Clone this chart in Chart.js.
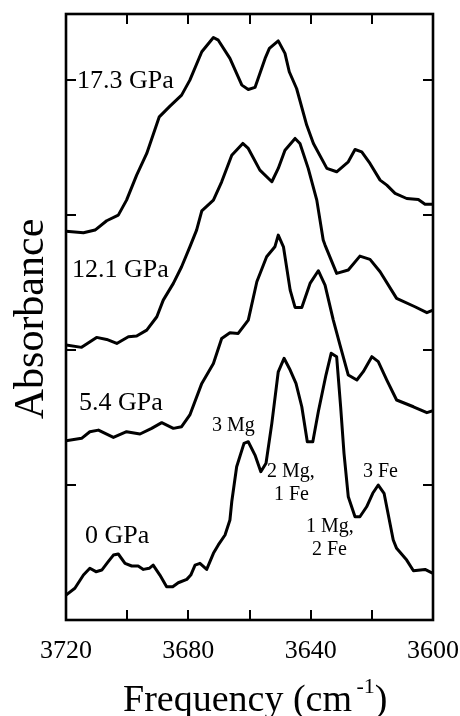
<!DOCTYPE html>
<html>
<head>
<meta charset="utf-8">
<script src="https://cdn.jsdelivr.net/npm/chart.js@4"></script>
<style>
  html, body { margin: 0; padding: 0; background: #fff; }
  #wrap { width: 460px; height: 716px; }
</style>
</head>
<body>
<div id="wrap"><canvas id="ir"></canvas></div>
<script>
// Spectra (frequency in cm-1, absorbance incl. vertical offset)
const freq0 = [3720, 3717.1, 3714.3, 3712.2, 3710.2, 3708.3, 3706.2, 3704.5, 3702.9, 3700.7, 3698.5, 3696.4, 3694.7, 3692.8, 3691.5, 3689.3, 3687.1, 3685.1, 3683.3, 3680.5, 3679.2, 3677.8, 3676.2, 3674.0, 3671.8, 3670.2, 3668.0, 3666.4, 3665.8, 3664.2, 3661.8, 3660.4, 3658.2, 3656.3, 3654.6, 3652.7, 3650.6, 3648.7, 3646.7, 3644.8, 3642.9, 3641.1, 3639.3, 3637.5, 3635.0, 3633.3, 3631.5, 3630.2, 3629.1, 3627.7, 3625.5, 3623.9, 3621.7, 3619.7, 3617.9, 3616.0, 3613.0, 3611.9, 3608.6, 3606.4, 3602.6, 3600];
const abs0 = [0.185, 0.235, 0.333, 0.383, 0.358, 0.370, 0.432, 0.481, 0.489, 0.420, 0.400, 0.400, 0.375, 0.383, 0.407, 0.333, 0.247, 0.247, 0.276, 0.301, 0.333, 0.407, 0.420, 0.375, 0.494, 0.556, 0.630, 0.741, 0.876, 1.136, 1.309, 1.321, 1.222, 1.099, 1.161, 1.457, 1.839, 1.939, 1.852, 1.753, 1.580, 1.321, 1.321, 1.543, 1.815, 1.976, 1.950, 1.580, 1.235, 0.913, 0.765, 0.765, 0.839, 0.939, 1.000, 0.939, 0.593, 0.531, 0.444, 0.365, 0.375, 0.346];

const freq54 = [3720, 3714.9, 3712.2, 3709.4, 3704.5, 3700.2, 3695.8, 3692.0, 3688.7, 3684.9, 3682.2, 3679.5, 3675.6, 3671.8, 3669.1, 3666.4, 3663.7, 3660.4, 3657.6, 3654.4, 3651.7, 3650.6, 3648.9, 3646.7, 3645.1, 3642.9, 3640.2, 3637.5, 3635.3, 3632.6, 3630.4, 3627.7, 3624.9, 3622.8, 3620.0, 3617.9, 3615.1, 3611.9, 3606.4, 3602.0, 3600];
const abs54 = [1.328, 1.346, 1.395, 1.407, 1.353, 1.395, 1.378, 1.420, 1.462, 1.420, 1.432, 1.519, 1.753, 1.901, 2.086, 2.128, 2.123, 2.222, 2.506, 2.691, 2.765, 2.852, 2.765, 2.444, 2.316, 2.316, 2.494, 2.588, 2.481, 2.222, 2.037, 1.815, 1.778, 1.840, 1.951, 1.914, 1.778, 1.630, 1.580, 1.536, 1.551];

const freq121 = [3720, 3714.9, 3710.0, 3706.7, 3703.4, 3699.6, 3696.9, 3693.6, 3690.3, 3688.2, 3684.9, 3682.2, 3679.5, 3677.3, 3675.6, 3671.8, 3669.1, 3665.8, 3662.2, 3660.4, 3656.6, 3652.7, 3650.6, 3648.4, 3645.1, 3643.5, 3640.8, 3638.0, 3635.9, 3635.3, 3631.5, 3627.7, 3623.9, 3620.6, 3617.3, 3611.9, 3605.9, 3602.0, 3600];
const abs121 = [2.037, 2.020, 2.094, 2.079, 2.049, 2.099, 2.104, 2.148, 2.247, 2.370, 2.494, 2.617, 2.765, 2.889, 3.032, 3.111, 3.247, 3.444, 3.531, 3.494, 3.333, 3.247, 3.346, 3.481, 3.568, 3.531, 3.346, 3.111, 2.815, 2.778, 2.568, 2.593, 2.696, 2.672, 2.580, 2.383, 2.321, 2.277, 2.296];

const freq173 = [3720, 3714.3, 3710.5, 3706.7, 3702.9, 3700.2, 3696.9, 3693.6, 3689.5, 3686.0, 3682.2, 3679.5, 3675.6, 3671.8, 3670.2, 3666.4, 3662.5, 3660.4, 3658.2, 3654.9, 3653.5, 3650.6, 3648.4, 3647.0, 3644.6, 3641.3, 3639.1, 3634.7, 3631.5, 3627.7, 3625.5, 3623.3, 3620.6, 3617.3, 3615.1, 3612.4, 3608.6, 3604.8, 3602.6, 3600];
const abs173 = [2.881, 2.869, 2.889, 2.958, 3.000, 3.111, 3.296, 3.457, 3.728, 3.807, 3.889, 4.000, 4.210, 4.316, 4.296, 4.161, 3.963, 3.931, 3.946, 4.161, 4.235, 4.291, 4.198, 4.062, 3.938, 3.667, 3.531, 3.346, 3.321, 3.395, 3.486, 3.469, 3.383, 3.259, 3.222, 3.161, 3.123, 3.116, 3.081, 3.081];

const xTickLabels = [3720, 3680, 3640, 3600];
const xMinorTicks = [3700, 3660, 3620];
const yTicks = [1, 2, 3, 4];

const serif = '"Liberation Serif", "Times New Roman", serif';

function pts(xs, ys) {
  return xs.map((x, i) => ({ x: x, y: ys[i] }));
}

function line(xs, ys) {
  return {
    data: pts(xs, ys),
    borderColor: '#000',
    borderWidth: 3,
    borderJoinStyle: 'round',
    borderCapStyle: 'round',
    pointRadius: 0,
    tension: 0,
    fill: false
  };
}

// frame, inward ticks, tick labels, titles and annotations
const decor = {
  id: 'decor',
  afterDraw(chart) {
    const ctx = chart.ctx;
    const a = chart.chartArea;
    const xs = chart.scales.x, ys = chart.scales.y;
    const tl = 10;
    ctx.save();
    ctx.strokeStyle = '#000';
    ctx.lineWidth = 2;
    ctx.beginPath();
    xTickLabels.concat(xMinorTicks).forEach(v => {
      const px = Math.round(xs.getPixelForValue(v));
      ctx.moveTo(px, a.bottom); ctx.lineTo(px, a.bottom - tl);
      ctx.moveTo(px, a.top); ctx.lineTo(px, a.top + tl);
    });
    yTicks.forEach(v => {
      const py = Math.round(ys.getPixelForValue(v));
      ctx.moveTo(a.left, py); ctx.lineTo(a.left + tl, py);
      ctx.moveTo(a.right, py); ctx.lineTo(a.right - tl, py);
    });
    ctx.stroke();
    ctx.lineWidth = 2.6;
    ctx.strokeRect(a.left, a.top, a.right - a.left, a.bottom - a.top);

    ctx.fillStyle = '#000';
    ctx.textBaseline = 'alphabetic';
    ctx.font = '26px ' + serif;
    ctx.textAlign = 'center';
    xTickLabels.forEach(v => {
      ctx.fillText(String(v), xs.getPixelForValue(v), a.bottom + 38);
    });

    // x title with superscript
    ctx.textAlign = 'left';
    ctx.font = '38px ' + serif;
    let tx = 123;
    const ty = 711;
    const t1 = 'Frequency (cm ';
    ctx.fillText(t1, tx, ty);
    tx += ctx.measureText(t1).width - 5;
    ctx.font = '22px ' + serif;
    ctx.fillText('-1', tx, ty - 18);
    tx += ctx.measureText('-1').width;
    ctx.font = '38px ' + serif;
    ctx.fillText(')', tx, ty);

    // y title
    ctx.save();
    ctx.translate(43, (a.top + a.bottom) / 2 + 2);
    ctx.rotate(-Math.PI / 2);
    ctx.textAlign = 'center';
    ctx.font = '42px ' + serif;
    ctx.fillText('Absorbance', 0, 0);
    ctx.restore();

    // series labels
    ctx.textAlign = 'left';
    ctx.font = '26px ' + serif;
    ctx.fillText('17.3 GPa', 77, 88);
    ctx.fillText('12.1 GPa', 72, 277);
    ctx.fillText('5.4 GPa', 79, 410);
    ctx.fillText('0 GPa', 85, 543);

    // site assignments
    ctx.font = '20px ' + serif;
    ctx.fillText('3 Mg', 212, 431);
    ctx.fillText('2 Mg,', 267, 477);
    ctx.fillText('1 Fe', 274, 500);
    ctx.fillText('1 Mg,', 306, 532);
    ctx.fillText('2 Fe', 312, 555);
    ctx.fillText('3 Fe', 363, 477);
    ctx.restore();
  }
};

new Chart(document.getElementById('ir'), {
  type: 'line',
  data: {
    datasets: [
      line(freq0, abs0),
      line(freq54, abs54),
      line(freq121, abs121),
      line(freq173, abs173)
    ]
  },
  options: {
    responsive: true,
    maintainAspectRatio: false,
    animation: false,
    layout: { padding: { left: 66, right: 27, top: 14, bottom: 96 } },
    plugins: { legend: { display: false }, tooltip: { enabled: false } },
    scales: {
      x: { type: 'linear', reverse: true, min: 3600, max: 3720, display: false },
      y: { type: 'linear', min: 0, max: 4.49, display: false }
    }
  },
  plugins: [decor]
});
</script>
</body>
</html>
